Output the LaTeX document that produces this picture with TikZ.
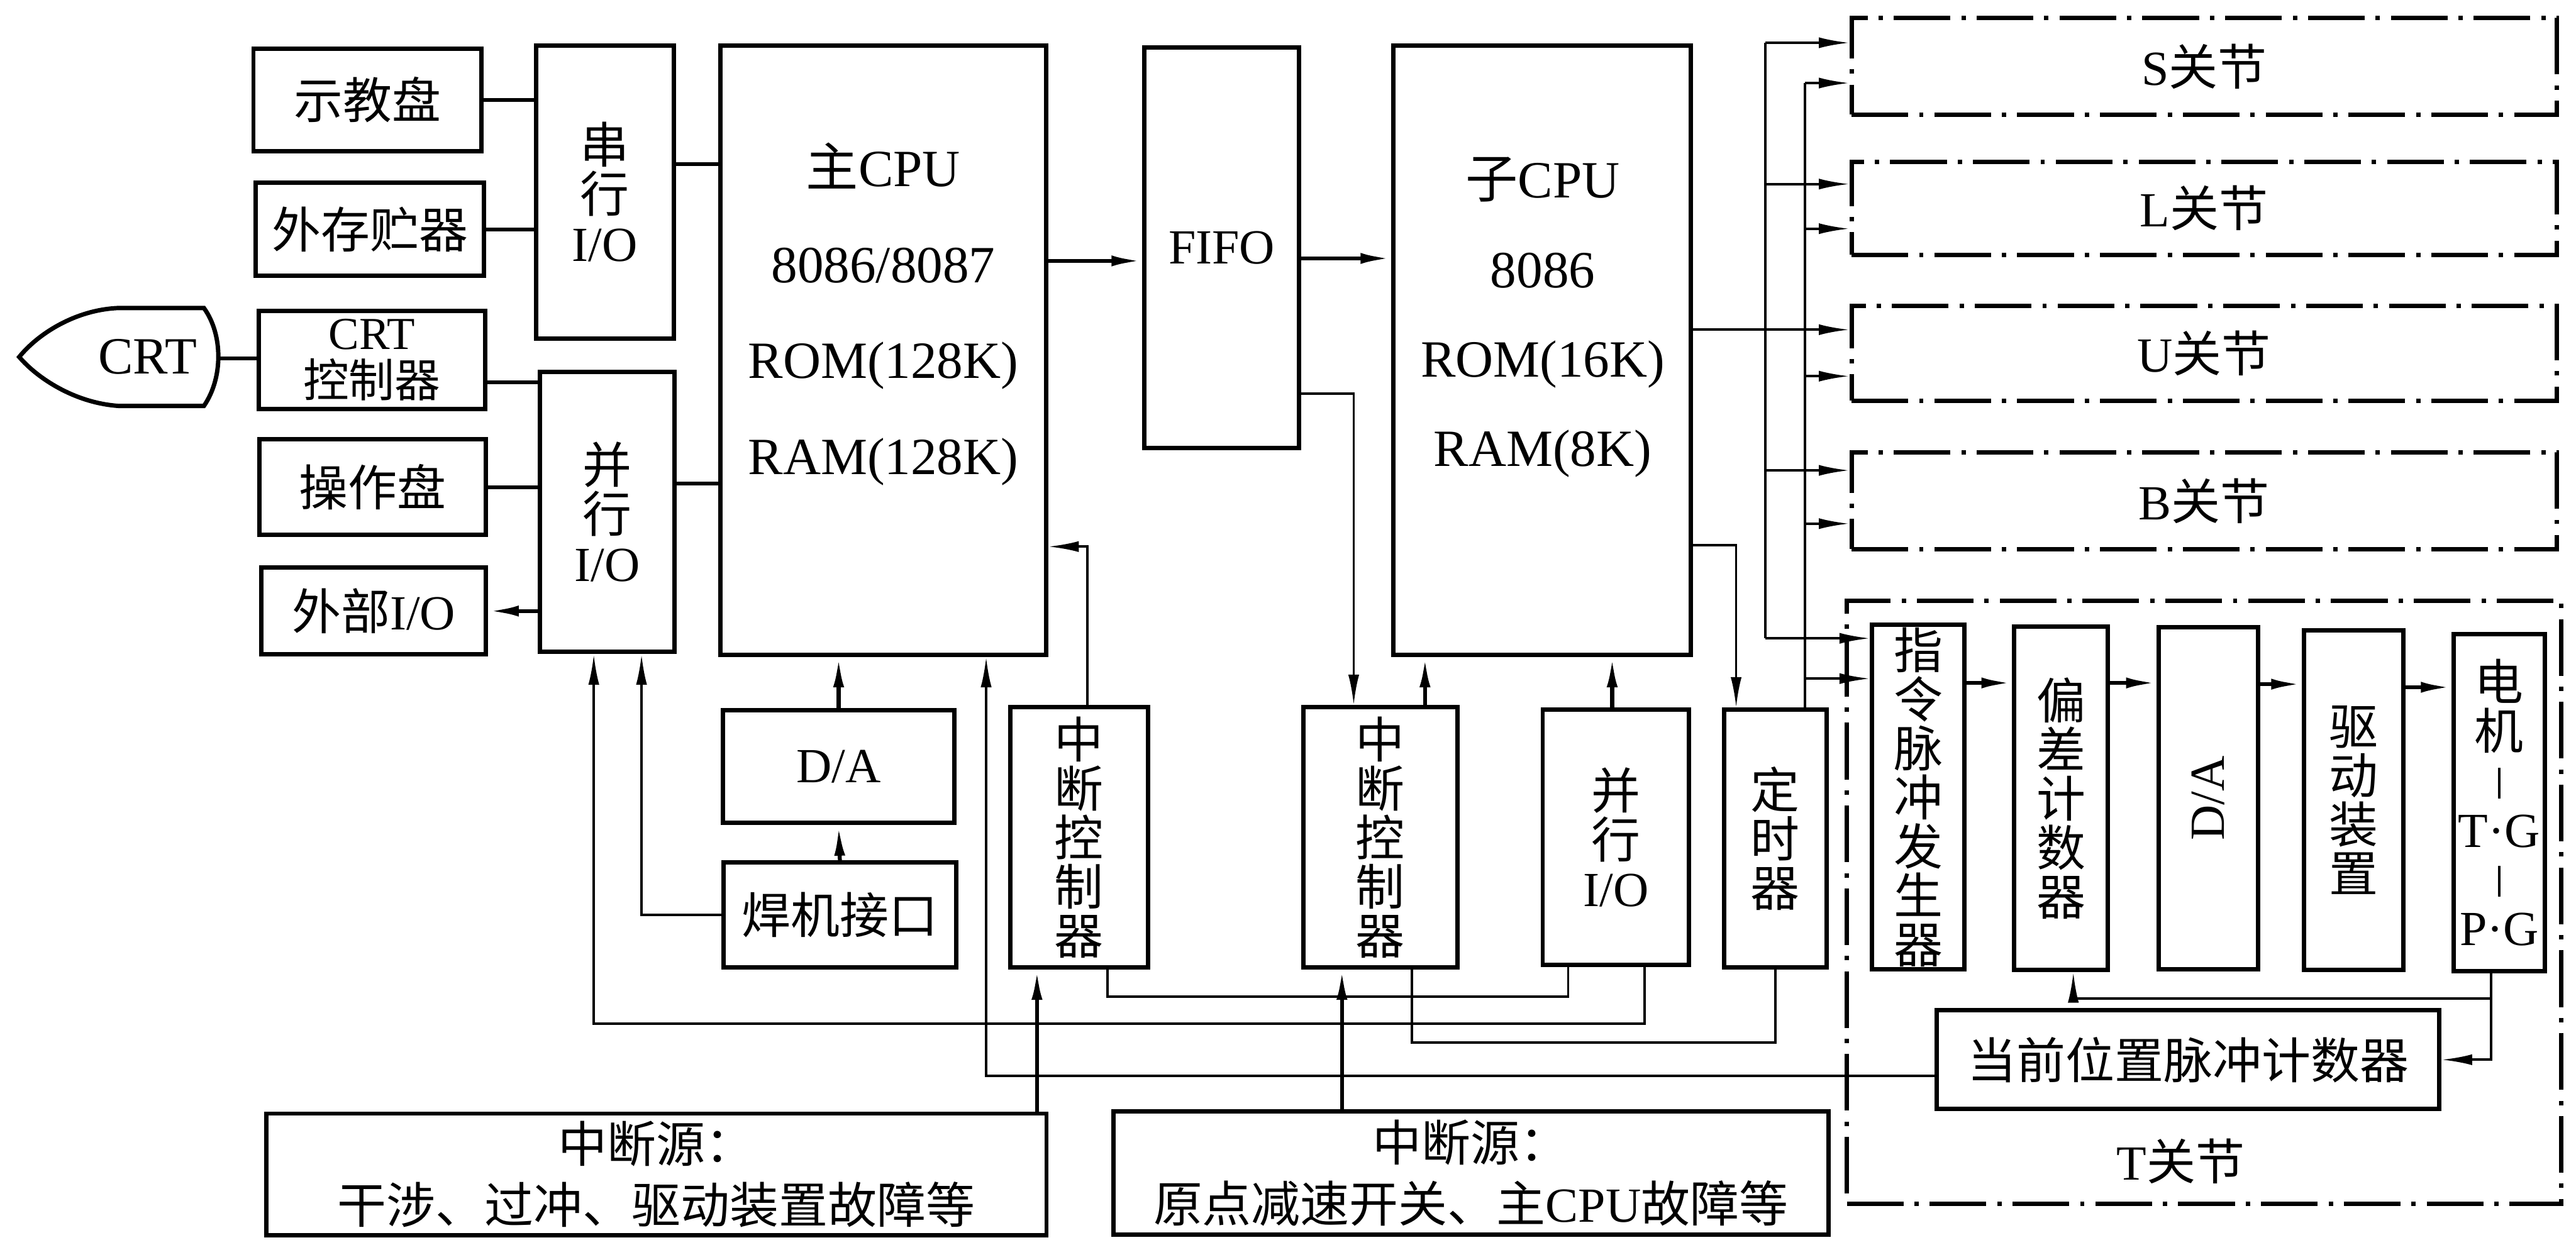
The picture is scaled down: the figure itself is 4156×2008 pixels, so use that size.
\documentclass[tikz,border=0pt]{standalone}
\usepackage{fontspec}
\usepackage{graphicx}
\setmainfont{Liberation Serif}
\newfontfamily\cjkf{Noto Sans CJK SC}
\newcommand\latn[1]{{\rmfamily #1}}
\usetikzlibrary{arrows.meta}
\begin{document}
\begin{tikzpicture}[x=0.01cm,y=-0.01cm,line join=miter,
  bx/.style={draw,line width=2pt,inner sep=0pt,align=center,font=\cjkf\fontsize{22.5pt}{22.5pt}\selectfont},
  jt/.style={draw,line width=2pt,dash pattern=on 26pt off 5pt on 2pt off 5pt,inner sep=0pt,align=center,font=\cjkf\fontsize{22.5pt}{22.5pt}\selectfont},
  txt/.style={inner sep=0pt,align=center,font=\cjkf\fontsize{22.5pt}{22.5pt}\selectfont},
  ln/.style={line width=1.8pt},
  thn/.style={line width=1.1pt},
  ar/.style={-{Latex[length=14pt,width=5pt]}}]
\useasboundingbox (0,0) rectangle (4156,2008);

% ---------- left column ----------
\draw[line width=2pt] (191,497) -- (329,497) .. controls (360,540) and (360,610) .. (329,655)
  -- (191,655) .. controls (120,650) and (60,610) .. (31,576) .. controls (60,540) and (120,500) .. (191,497) -- cycle;
\node[txt,font=\rmfamily\fontsize{24pt}{24pt}\selectfont] (crt) at (238,576) {CRT};
\coordinate (crtR) at (355,578);

\node[bx,minimum width=3.68cm,minimum height=1.65cm] (sjp) at (593,161) {示教盘};
\node[bx,minimum width=3.68cm,minimum height=1.50cm] (wcq) at (597,370) {外存贮器};
\node[bx,minimum width=3.65cm,minimum height=1.58cm,font=\cjkf\fontsize{21pt}{22pt}\selectfont] (crtc) at (600,581) {\latn{CRT}\\控制器};
\node[bx,minimum width=3.65cm,minimum height=1.54cm] (czp) at (601,786) {操作盘};
\node[bx,minimum width=3.62cm,minimum height=1.40cm] (wbio) at (603,986) {外部\latn{I/O}};

\node[bx,minimum width=2.22cm,minimum height=4.72cm] (cxio) at (976,310) {串\\行\\\latn{I/O}};
\node[bx,minimum width=2.17cm,minimum height=4.52cm] (bxio) at (980,826) {并\\行\\\latn{I/O}};

% ---------- CPUs ----------
\node[bx,minimum width=5.25cm,minimum height=9.82cm] (mcpu) at (1425,565) {};
\node[txt,font=\rmfamily\fontsize{24pt}{44pt}\selectfont] (mcput) at (1425,507) {{\cjkf 主}CPU\\8086/8087\\ROM(128K)\\RAM(128K)};
\node[bx,minimum width=2.50cm,minimum height=6.46cm] (fifo) at (1971,400) {\latn{FIFO}};
\node[bx,minimum width=4.80cm,minimum height=9.82cm] (scpu) at (2488,565) {};
\node[txt,font=\rmfamily\fontsize{24pt}{41pt}\selectfont] (scput) at (2489,512) {{\cjkf 子}CPU\\8086\\ROM(16K)\\RAM(8K)};

\node[bx,minimum width=3.73cm,minimum height=1.82cm] (da1) at (1353,1237) {\latn{D/A}};
\node[bx,minimum width=3.76cm,minimum height=1.69cm] (hj) at (1355,1476) {焊机接口};
\node[bx,minimum width=2.22cm,minimum height=4.19cm] (zd1) at (1741,1351) {中\\断\\控\\制\\器};
\node[bx,minimum width=2.49cm,minimum height=4.19cm] (zd2) at (2227,1351) {中\\断\\控\\制\\器};
\node[bx,minimum width=2.36cm,minimum height=4.11cm] (bxio2) at (2607,1351) {并\\行\\\latn{I/O}};
\node[bx,minimum width=1.65cm,minimum height=4.15cm] (dsq) at (2864,1353) {定\\时\\器};

% ---------- joints ----------
\node[jt,minimum width=11.37cm,minimum height=1.56cm] (sj) at (3556,107) {\latn{S}关节};
\node[jt,minimum width=11.37cm,minimum height=1.50cm] (lj) at (3556,336) {\latn{L}关节};
\node[jt,minimum width=11.37cm,minimum height=1.53cm] (uj) at (3556,570) {\latn{U}关节};
\node[jt,minimum width=11.37cm,minimum height=1.56cm] (bj) at (3556,808) {\latn{B}关节};
\node[jt,minimum width=11.52cm,minimum height=9.72cm] (tj) at (3556,1456) {};
\node[txt] (tlab) at (3518,1874) {\latn{T}关节};

\node[bx,minimum width=1.49cm,minimum height=5.55cm] (zlmc) at (3095,1286) {指\\令\\脉\\冲\\发\\生\\器};
\node[bx,minimum width=1.51cm,minimum height=5.54cm] (pcjs) at (3325,1288) {偏\\差\\计\\数\\器};
\node[bx,minimum width=1.60cm,minimum height=5.52cm] (da2) at (3563,1288) {\rotatebox{90}{\latn{D/A}}};
\node[bx,minimum width=1.60cm,minimum height=5.48cm] (qdzz) at (3797,1291) {驱\\动\\装\\置};
\node[bx,minimum width=1.47cm,minimum height=5.44cm] (dj) at (4032,1295) {电\\机\\\rule{1.2pt}{14pt}\\\latn{T\textperiodcentered G}\\\rule{1.2pt}{14pt}\\\latn{P\textperiodcentered G}};
\node[bx,minimum width=8.11cm,minimum height=1.59cm] (dqwz) at (3530,1710) {当前位置脉冲计数器};

% ---------- interrupt sources ----------
\node[bx,minimum width=12.58cm,minimum height=1.96cm,font=\cjkf\fontsize{22.5pt}{28pt}\selectfont] (zdy1) at (1059,1895) {中断源：\\干涉、过冲、驱动装置故障等};
\node[bx,minimum width=11.53cm,minimum height=1.99cm,font=\cjkf\fontsize{22.5pt}{28pt}\selectfont] (zdy2) at (2373,1893) {中断源：\\原点减速开关、主\latn{CPU}故障等};

% ---------- connectors: left ----------
\draw[ln] (sjp.east) -- (sjp.east -| cxio.west);
\draw[ln] (wcq.east) -- (wcq.east -| cxio.west);
\draw[ln] (crtR) -- (crtR -| crtc.west);
\draw[ln] (crtc.east |- 0,617) -- (bxio.west |- 0,617);
\draw[ln] (czp.east) -- (czp.east -| bxio.west);
\draw[ln,ar] (wbio.east -| bxio.west) -- (wbio.east);
\draw[ln] (cxio.east |- 0,265) -- (mcpu.west |- 0,265);
\draw[ln] (bxio.east |- 0,780) -- (mcpu.west |- 0,780);

% ---------- connectors: CPUs ----------
\draw[ln,ar] (mcpu.east |- 0,421) -- (fifo.west |- 0,421);
\draw[ln,ar] (fifo.east |- 0,417) -- (scpu.west |- 0,417);
\draw[thn,ar] (fifo.east |- 0,635) -| (zd2.north -| 2184,0);
\draw[thn,ar] (zd1.north -| 1754,0) |- (mcpu.east |- 0,882);
\draw[ln,ar] (da1.north) -- (da1.north |- mcpu.south);
\draw[ln,ar] (hj.north) -- (da1.south);
\draw[thn,ar] (hj.west) -| (bxio.south -| 1035,0);
\draw[thn,ar] (bxio2.south -| 2653,0) -- (2653,1652) -| (bxio.south -| 958,0);
\draw[thn,ar] (dqwz.west |- 0,1736) -| (mcpu.south -| 1591,0);
\draw[ln,ar] (zdy1.north -| 1673,0) -- (zd1.south -| 1673,0);
\draw[thn] (zd1.south -| 1787,0) |- (2530,1608) -- (bxio2.south -| 2530,0);
\draw[ln,ar] (zdy2.north -| 2165,0) -- (zd2.south -| 2165,0);
\draw[thn] (zd2.south -| 2278,0) |- (2864,1682) -- (dsq.south);
\draw[ln,ar] (zd2.north -| 2299,0) -- (scpu.south -| 2299,0);
\draw[ln,ar] (bxio2.north -| 2601,0) -- (scpu.south -| 2601,0);
\draw[thn,ar] (scpu.east |- 0,880) -| (dsq.north -| 2801,0);

% ---------- buses to joints ----------
\draw[thn,ar] (scpu.east |- 0,532) -- (uj.west |- 0,532);
\draw[thn] (2848,69) -- (2848,1030);
\foreach \yy/\jn in {69/sj,297/lj,759/bj,1030/zlmc}
  \draw[thn,ar] (2848,\yy) -- (\jn.west |- 0,\yy);
\draw[thn] (dsq.north -| 2912,0) -- (2912,134);
\foreach \yy/\jn in {134/sj,369/lj,607/uj,845/bj,1095/zlmc}
  \draw[thn,ar] (2912,\yy) -- (\jn.west |- 0,\yy);

% ---------- T joint chain ----------
\draw[ln,ar] (zlmc.east |- 0,1102) -- (pcjs.west |- 0,1102);
\draw[ln,ar] (pcjs.east |- 0,1102) -- (da2.west |- 0,1102);
\draw[ln,ar] (da2.east |- 0,1104) -- (qdzz.west |- 0,1104);
\draw[ln,ar] (qdzz.east |- 0,1109) -- (dj.west |- 0,1109);
\draw[thn,ar] (dj.south -| 4019,0) |- (dqwz.east);
\draw[thn,ar] (4019,1611) -| (pcjs.south -| 3345,0);
\end{tikzpicture}
\end{document}
